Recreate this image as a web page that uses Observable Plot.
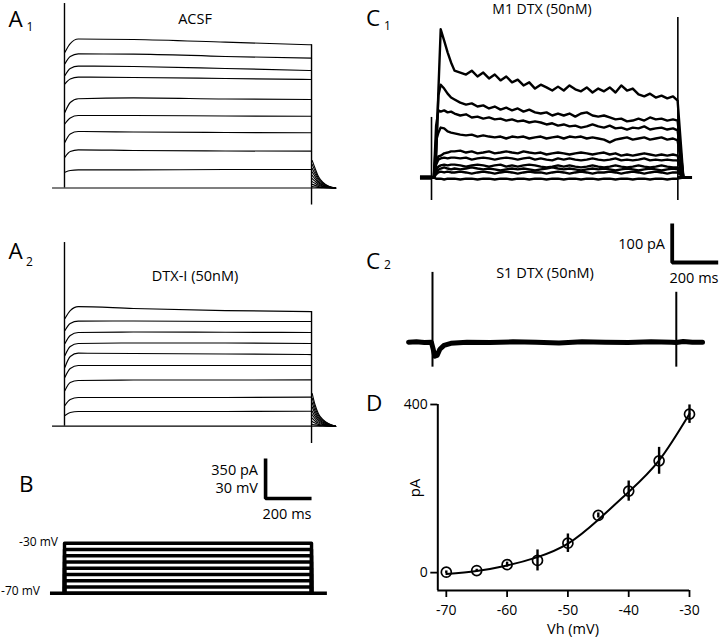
<!DOCTYPE html>
<html><head><meta charset="utf-8">
<script src="https://cdn.jsdelivr.net/npm/d3@7"></script>
<script src="https://cdn.jsdelivr.net/npm/@observablehq/plot@0.6"></script>
<style>
body{margin:0;background:#fff;}
#fig{position:relative;width:720px;height:638px;overflow:hidden;background:#fff;font-family:"Open Sans",sans-serif;}
</style></head><body><div id="fig"></div>
<script>
// ---------------- DATA ----------------
// A1 / A2 : whole-cell currents (pA) sampled at these times (ms) during the step
const aTimes = [2, 25, 60, 300, 700, 1075];
const aStep = [0, 1075];           // step on / off (ms)
const aRec = [-52, 1179];          // recording window (ms)
const a1Traces = [
  [1188,1264,1304,1299,1276,1253],
  [1087,1150,1173,1172,1151,1136],
  [984,1046,1066,1063,1046,1028],
  [912,954,970,967,958,949],
  [663,748,781,788,779,774],
  [562,613,634,634,630,628],
  [401,473,494,490,486,483],
  [270,319,334,328,324,322],
  [138,153,159,158,162,162]
];
const a2Traces = [
  [942,1012,1047,1030,1012,1003],
  [837,899,919,921,916,916],
  [723,794,820,824,822,820],
  [618,697,724,728,728,724],
  [516,610,639,636,632,627],
  [429,505,531,531,531,531],
  [312,382,400,404,404,406],
  [181,234,251,251,251,254],
  [94,120,129,129,129,131]
];
const tailTimes = [1078, 1090, 1105, 1125, 1150, 1180];
const a1Tails = [
  [240,175,100,50,15,0],[205,150,85,43,13,0],[172,125,72,36,11,0],
  [140,102,58,29,9,0],[110,80,46,23,7,0],[82,60,34,17,5,0],
  [56,41,23,12,4,0],[32,23,13,7,2,0],[12,9,5,3,1,0]
];
const a2Tails = [
  [286,190,110,58,22,0],[245,163,94,50,19,0],[205,136,79,42,16,0],
  [168,112,65,34,13,0],[132,88,51,27,10,0],[100,66,38,20,8,0],
  [70,46,27,14,5,0],[42,28,16,8,3,0],[18,12,7,4,1,0]
];
const a1OnSpike = 1614, a1OffSpike = -149;
const a2OnSpike = 1607, a2OffSpike = -151;
const scaleA = {ms: 200, pA: 350, mV: 30};

// B : voltage protocol (mV)
const bLevels = [-70,-65,-60,-55,-50,-45,-40,-35,-30];
const bRec = [-61, 1144];

// C1 : M1 DTX-sensitive currents (pA)
const c1Times = [0,10,20,30,40,55,70,85,100,125,150,175,200,225,250,275,300,325,350,375,400,425,450,475,500,525,550,575,600,625,650,675,700,725,750,775,800,825,850,875,900,925,950,975,1000,1025,1050,1070,1095];
const c1Traces = [
  [0,0,44,223,380,351,321,295, 274,269,264,274,259,269,254,264,249,259, 244,251,236,244,228,238,231,223,233,223, 236,226,221,231,218,228,221,231,218,236, 223,228,213,208,215,205,210,203,208, 197,0],
  [0,0,69,210,238,228,215,205, 200,192,187,190,182,185,177,182,174,179, 172,177,169,174,167,164,167,159,164,159, 164,156,164,167,159,156,159,154,149,151, 144,146,151,146,154,149,151,146,149, 146,0],
  [0,0,133,172,169,172,167,169, 164,159,162,154,156,151,154,149,151,146, 149,144,146,141,144,141,136,139,133,136, 131,133,128,131,136,131,128,133,126,128, 123,128,126,131,123,126,128,123,126, 121,0],
  [0,0,95,115,128,126,118,115, 113,110,108,110,105,108,105,103,105,100, 105,103,105,100,103,105,100,103,105,100, 105,103,105,100,103,100,97,90,97,100, 103,97,100,103,97,100,103,97,100, 95,0],
  [0,0,38,54,56,62,64,67, 67,69,64,67,62,64,67,62,64,67, 64,62,67,64,62,64,59,62,64,62, 59,62,64,62,59,62,64,59,62,56, 59,56,59,62,59,56,59,56,59, 56,0],
  [0,0,33,46,49,51,49,51, 51,49,51,46,49,51,49,46,49,51, 49,46,49,51,46,49,46,44,49,46, 49,46,44,46,49,46,44,46,49,44, 46,44,46,49,44,46,44,46,44, 44,0],
  [0,0,20,28,31,33,31,33, 33,31,28,31,33,31,28,31,33,28, 31,28,31,33,31,28,26,28,31,28, 31,28,26,28,31,28,26,28,31,28, 26,28,31,28,26,28,31,28,26, 26,0],
  [0,0,13,20,23,26,23,21, 23,21,23,26,23,21,23,21,18,21, 23,21,23,21,18,21,23,26,23,21, 23,21,18,21,23,21,23,21,18,21, 23,21,18,21,23,21,18,21,23, 21,0],
  [0,0,8,13,15,13,15,13, 13,15,13,10,13,15,13,10,13,15, 13,10,13,15,13,13,10,13,15,13, 10,13,15,13,10,13,13,15,13,10, 13,15,13,10,13,15,13,10,13, 13,0],
  [0,0,-3,-3,-3,-5,-3,-3, -3,-5,-3,-3,-5,-3,-3,-5,-3,-3, -5,-3,-3,-5,-3,-3,-5,-3,-3,-5, -3,-3,-5,-3,-3,-5,-3,-3,-5,-3, -3,-5,-3,-3,-5,-3,-3,-5,-3, -3,0]
];
const c1Rec = [-48, 1135];
const c1Step = [0, 1071];
const c1OnSpike = [-59, 154], c1OffSpike = [-59, 410];

// C2 : S1 DTX-sensitive current (pA)
const c2Times = [-104,-70,-35,-5,3,10,20,32,50,80,150,250,350,450,550,650,750,850,950,1040,1060,1090,1130,1174];
const c2Values = [0,1,-1,0,-18,-36,-34,-18,-8,-3,0,-1,1,0,-2,1,0,-1,1,0,-1,2,0,0];
const c2Step = [0, 1060];
const c2OnSpike = [-64, 179], c2OffSpike = [-64, 128];
const scaleC = {ms: 200, pA: 100};

// D : I-V relation
const ivVoltage = [-70,-65,-60,-55,-50,-45,-40,-35,-30];
const ivMean = [1, 5, 19, 29, 70, 136, 194, 266, 377];
const ivSem = [3, 3, 6, 25, 22, 6, 24, 32, 22];
const ivFit = [-3, 4, 17, 37, 69, 126, 192, 267, 378];
const ivXTicks = [-70,-60,-50,-40,-30];
const ivYTicks = [0, 400];

// ---------------- DRAWING ----------------
const fig = document.getElementById("fig");
const FONT = "'Open Sans', sans-serif";
function place(el, left, top) {
  el.style.position = "absolute";
  el.style.left = left + "px";
  el.style.top = top + "px";
  fig.appendChild(el);
  return el;
}
function rows(times, traces) {
  return traces.flatMap((vals, k) => vals.map((v, j) => ({t: times[j], v, k})));
}
const baseStyle = {background: "transparent", fontFamily: FONT, color: "#000", overflow: "visible"};

function aPanel(traces, tails, onSpike, offSpike, extra, dims) {
  return Plot.plot({
    width: dims.w, height: dims.h, margin: 0,
    style: baseStyle,
    x: {domain: dims.x, axis: null},
    y: {domain: dims.y, axis: null},
    marks: [
      Plot.ruleY([0], {x1: aRec[0], x2: aRec[1], stroke: "#000", strokeWidth: 1.2}),
      Plot.line(rows(aTimes, traces), {x: "t", y: "v", z: "k", curve: "monotone-x", stroke: "#000", strokeWidth: 1.15}),
      Plot.line(rows(tailTimes, tails), {x: "t", y: "v", z: "k", curve: "monotone-x", stroke: "#000", strokeWidth: 1.1}),
      Plot.ruleX([aStep[0]], {y1: 0, y2: onSpike, stroke: "#000", strokeWidth: 1.4}),
      Plot.ruleX([aStep[1]], {y1: offSpike, y2: traces[0][traces[0].length - 1], stroke: "#000", strokeWidth: 1.4}),
      ...extra
    ]
  });
}

// A1
place(aPanel(a1Traces, a1Tails, a1OnSpike, a1OffSpike, [],
  {w: 305, h: 210, x: [-104.4, 1222.8], y: [-196.9, 1640.6]}), 40, 0);

// A2 (+ shared 350 pA / 30 mV / 200 ms scale bar)
const sbA = {t: 875, v: -632.6};
place(aPanel(a2Traces, a2Tails, a2OnSpike, a2OffSpike, [
  Plot.line([
    {t: sbA.t, v: sbA.v + scaleA.pA},
    {t: sbA.t, v: sbA.v},
    {t: sbA.t + scaleA.ms, v: sbA.v}
  ], {x: "t", y: "v", stroke: "#000", strokeWidth: 3.6, strokeLinejoin: "miter", strokeLinecap: "butt"})
], {w: 305, h: 290, x: [-104.4, 1222.8], y: [-824.9, 1712.4]}), 40, 230);

// B voltage steps
const bRows = bLevels.flatMap((lv, k) => [
  {t: aStep[0], v: bLevels[0], k}, {t: aStep[0], v: lv, k},
  {t: aStep[1], v: lv, k}, {t: aStep[1], v: bLevels[0], k}
]);
place(Plot.plot({
  width: 345, height: 100, margin: 0, style: baseStyle,
  x: {domain: [-278.5, 1222.8], axis: null},
  y: {domain: [-91.84, -11.84], axis: null},
  marks: [
    Plot.ruleY([bLevels[0]], {x1: bRec[0], x2: bRec[1], stroke: "#000", strokeWidth: 3.6}),
    Plot.line(bRows, {x: "t", y: "v", z: "k", stroke: "#000", strokeWidth: 3.4, strokeLinejoin: "round"})
  ]
}), 0, 520);

// C1
place(Plot.plot({
  width: 310, height: 215, margin: 0, style: baseStyle,
  x: {domain: [-134.8, 1213], axis: null},
  y: {domain: [-97.4, 453.8], axis: null},
  marks: [
    Plot.ruleY([0], {x1: c1Rec[0], x2: c1Step[0], stroke: "#000", strokeWidth: 4.5}),
    Plot.ruleY([0], {x1: c1Step[1], x2: c1Rec[1], stroke: "#000", strokeWidth: 3}),
    Plot.line(rows(c1Times, c1Traces), {x: "t", y: "v", z: "k", stroke: "#000", strokeWidth: 2.4, strokeLinejoin: "round"}),
    Plot.ruleX([c1Step[0]], {y1: c1OnSpike[0], y2: c1OnSpike[1], stroke: "#000", strokeWidth: 1.6}),
    Plot.ruleX([c1Step[1]], {y1: c1OffSpike[0], y2: c1OffSpike[1], stroke: "#000", strokeWidth: 1.6})
  ]
}), 400, 0);

// C2 (+ 100 pA / 200 ms scale bar)
const sbC = {t: 1042.2, v: 204.4};
place(Plot.plot({
  width: 320, height: 160, margin: 0, style: baseStyle,
  x: {domain: [-139.1, 1252.2], axis: null},
  y: {domain: [-85.4, 324.9], axis: null},
  marks: [
    Plot.line(c2Times.map((t, i) => ({t, v: c2Values[i]})), {x: "t", y: "v", stroke: "#000", strokeWidth: 5, strokeLinejoin: "round"}),
    Plot.ruleX([c2Step[0]], {y1: c2OnSpike[0], y2: c2OnSpike[1], stroke: "#000", strokeWidth: 2}),
    Plot.ruleX([c2Step[1]], {y1: c2OffSpike[0], y2: c2OffSpike[1], stroke: "#000", strokeWidth: 2}),
    Plot.line([
      {t: sbC.t, v: sbC.v + scaleC.pA},
      {t: sbC.t, v: sbC.v},
      {t: sbC.t + scaleC.ms, v: sbC.v}
    ], {x: "t", y: "v", stroke: "#000", strokeWidth: 3.8, strokeLinejoin: "miter", strokeLinecap: "butt"})
  ]
}), 400, 215);

// D  I-V plot
const iv = ivVoltage.map((x, i) => ({x, m: ivMean[i], s: ivSem[i], f: ivFit[i]}));
const dX = [-71.4, -30], dY = [-42.5, 400];
place(Plot.plot({
  width: 340, height: 248,
  marginLeft: 57.3, marginRight: 31, marginTop: 14, marginBottom: 48,
  style: {...baseStyle, fontSize: "14px"},
  x: {domain: dX}, y: {domain: dY},
  marks: [
    Plot.axisX({ticks: ivXTicks, tickFormat: d => String(d), tickSize: 7, tickPadding: 8, label: null, fontSize: 14, strokeWidth: 1.8}),
    Plot.axisY({ticks: ivYTicks, tickFormat: d => String(d), tickSize: 7, tickPadding: 3, label: null, fontSize: 14, strokeWidth: 1.8}),
    Plot.ruleX([dX[0]], {stroke: "#000", strokeWidth: 2}),
    Plot.ruleY([dY[0]], {stroke: "#000", strokeWidth: 2}),
    Plot.line(iv, {x: "x", y: "f", curve: "natural", stroke: "#000", strokeWidth: 2}),
    Plot.ruleX(iv, {x: "x", y1: d => d.m - d.s, y2: d => d.m + d.s, stroke: "#000", strokeWidth: 2.4}),
    Plot.dot(iv, {x: "x", y: "m", r: 5, stroke: "#000", strokeWidth: 1.7, fill: "none"})
  ]
}), 380, 390);

// ---------------- TEXT ----------------
const ov = d3.select(fig).append("svg")
  .attr("width", 720).attr("height", 638)
  .style("position", "absolute").style("left", "0px").style("top", "0px");
function txt(s, x, yc, size, anchor = "middle", rotate = false) {
  const t = ov.append("text")
    .attr("text-anchor", anchor).attr("font-size", size)
    .attr("font-family", FONT).attr("fill", "#000").text(s);
  if (rotate) t.attr("transform", `translate(${x},${yc}) rotate(-90)`).attr("dy", (0.36 * size) + "px");
  else t.attr("x", x).attr("y", yc + 0.36 * size);
}
// panel letters
txt("A", 8.5, 18.5, 22.5, "start"); txt("1", 26.5, 27, 12, "start");
txt("A", 8.5, 251, 22.5, "start"); txt("2", 26, 261.5, 12, "start");
txt("B", 19, 484, 22.5, "start");
txt("C", 366, 17.5, 22.5, "start"); txt("1", 384, 25.5, 12, "start");
txt("C", 366, 260.5, 22.5, "start"); txt("2", 384, 265, 12, "start");
txt("D", 366, 403, 22.5, "start");
// titles
txt("ACSF", 195, 18.5, 14.5);
txt("DTX-I (50nM)", 195, 276, 14.5);
txt("M1 DTX (50nM)", 542, 8.5, 14);
txt("S1 DTX (50nM)", 545, 272.5, 14.5);
// scale bar labels
txt("350 pA", 258, 470, 14.5, "end");
txt("30 mV", 258, 488, 14.5, "end");
txt("200 ms", 287, 514, 14.5);
txt("100 pA", 665, 244, 14.5, "end");
txt("200 ms", 694, 278, 14.5);
txt("-30 mV", 58, 542, 12, "end");
txt("-70 mV", 40, 591, 12, "end");
// D axis titles
txt("Vh (mV)", 573, 628.5, 14.5);
txt("pA", 415, 488, 15, "middle", true);
</script></body></html>
